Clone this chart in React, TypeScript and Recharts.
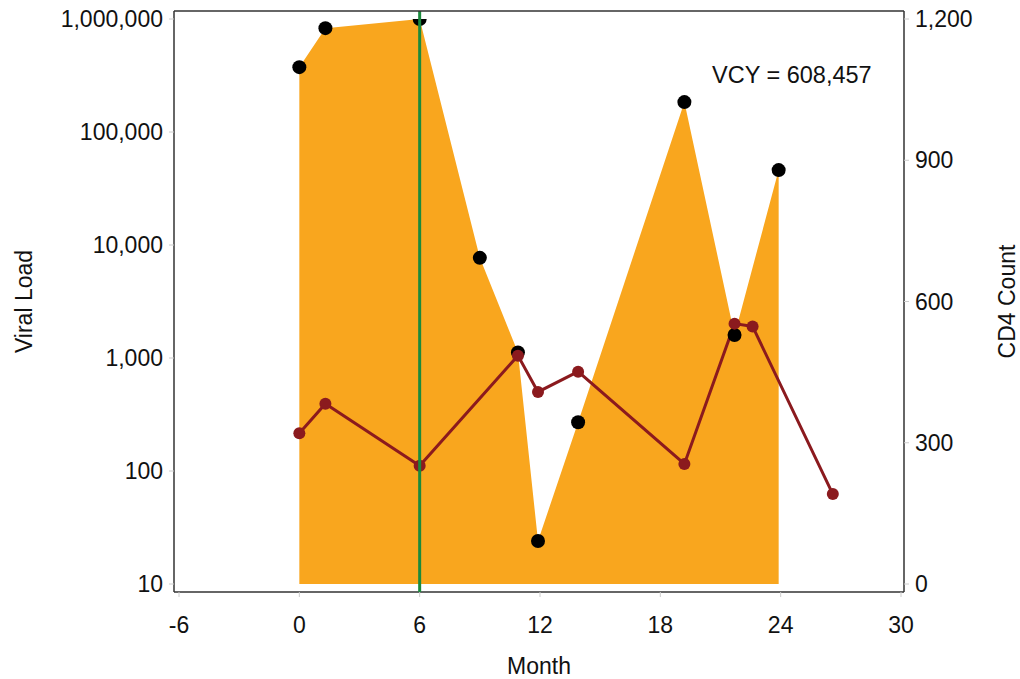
import React from 'react'
import { ComposedChart, Area, Line, XAxis, YAxis, ReferenceLine } from 'recharts'

const vlMonths = [0, 1.3, 6, 9, 10.9, 11.9, 13.9, 19.2, 21.7, 23.9]
const viralLoad = [375000, 830000, 1000000, 7700, 1120, 24, 270, 184000, 1600, 46000]

const cd4Months = [0, 1.3, 6, 10.9, 11.9, 13.9, 19.2, 21.7, 22.6, 26.6]
const cd4Count = [320, 383, 251, 485, 408, 451, 255, 553, 547, 191]

const monthTicks = [-6, 0, 6, 12, 18, 24, 30]
const vlTicks = [10, 100, 1000, 10000, 100000, 1000000]
const cd4Ticks = [0, 300, 600, 900, 1200]

const vcyText = 'VCY = 608,457'
const artStart = 6

const vlData = vlMonths.map((m, i) => ({ month: m, vl: viralLoad[i] }))
const cd4Data = cd4Months.map((m, i) => ({ month: m, cd4: cd4Count[i] }))

const W = 1020
const H = 679
const TOP = 11
const LEFT_W = 174
const RIGHT_W = 116

const font = 'Arial, "Liberation Sans", Helvetica, sans-serif'
const tickStyle = { fontSize: 23, fill: '#111', fontFamily: font }
const frame = { stroke: '#333', strokeWidth: 1.5 }
const fmt = (v: number) => v.toLocaleString('en-US')

export default function App() {
  return (
    <div style={{ position: 'relative', width: W, height: H }}>
      <style>{`body{margin:0}`}</style>
      <ComposedChart width={W} height={H} margin={{ top: TOP, right: 0, bottom: 0, left: 0 }}>
        <XAxis
          xAxisId="bottom"
          dataKey="month"
          type="number"
          domain={[-6, 30]}
          ticks={monthTicks}
          allowDataOverflow
          height={87}
          padding={{ left: 5, right: 3 }}
          axisLine={frame}
          tickLine={{ stroke: '#ccc' }}
          tickSize={5}
          tickMargin={20}
          tick={tickStyle}
          label={{ value: 'Month', position: 'insideBottom', offset: 5, style: { ...tickStyle, textAnchor: 'middle' } }}
        />
        <YAxis
          yAxisId="vl"
          scale="log"
          type="number"
          domain={[10, 1000000]}
          ticks={vlTicks}
          allowDataOverflow
          width={LEFT_W}
          padding={{ top: 8, bottom: 8 }}
          axisLine={frame}
          tickLine={{ stroke: '#ccc' }}
          tickSize={5}
          tickMargin={6}
          tick={tickStyle}
          tickFormatter={fmt}
          label={{ value: 'Viral Load', angle: -90, position: 'insideLeft', offset: 24, style: { ...tickStyle, textAnchor: 'middle' } }}
        />
        <YAxis
          yAxisId="cd4"
          orientation="right"
          type="number"
          domain={[0, 1200]}
          ticks={cd4Ticks}
          width={RIGHT_W}
          padding={{ top: 8, bottom: 8 }}
          axisLine={frame}
          tickLine={{ stroke: '#ccc' }}
          tickSize={5}
          tickMargin={6}
          tick={tickStyle}
          tickFormatter={fmt}
          label={{ value: 'CD4 Count', angle: -90, position: 'insideRight', offset: 13, style: { ...tickStyle, textAnchor: 'middle' } }}
        />
        <Area
          data={vlData}
          xAxisId="bottom"
          yAxisId="vl"
          dataKey="vl"
          type="linear"
          baseValue={10}
          stroke="none"
          fill="#F9A61E"
          fillOpacity={1}
          dot={{ r: 7, fill: '#000', stroke: 'none' }}
          isAnimationActive={false}
        />
        <Line
          data={cd4Data}
          xAxisId="bottom"
          yAxisId="cd4"
          dataKey="cd4"
          type="linear"
          stroke="#8B1A1E"
          strokeWidth={3}
          dot={{ r: 6, fill: '#8B1A1E', stroke: 'none' }}
          isAnimationActive={false}
        />
        <ReferenceLine xAxisId="bottom" yAxisId="vl" x={artStart} stroke="#1B8A3C" strokeWidth={3} zIndex={1500} />
      </ComposedChart>
      <svg width={W} height={H} style={{ position: 'absolute', left: 0, top: 0, pointerEvents: 'none' }}>
        {/* top edge of the plot frame */}
        <line x1={LEFT_W} x2={W - RIGHT_W} y1={TOP} y2={TOP} {...frame} />
        <text x={712} y={83} style={{ ...tickStyle, fontSize: 23.5 }}>{vcyText}</text>
      </svg>
    </div>
  )
}
